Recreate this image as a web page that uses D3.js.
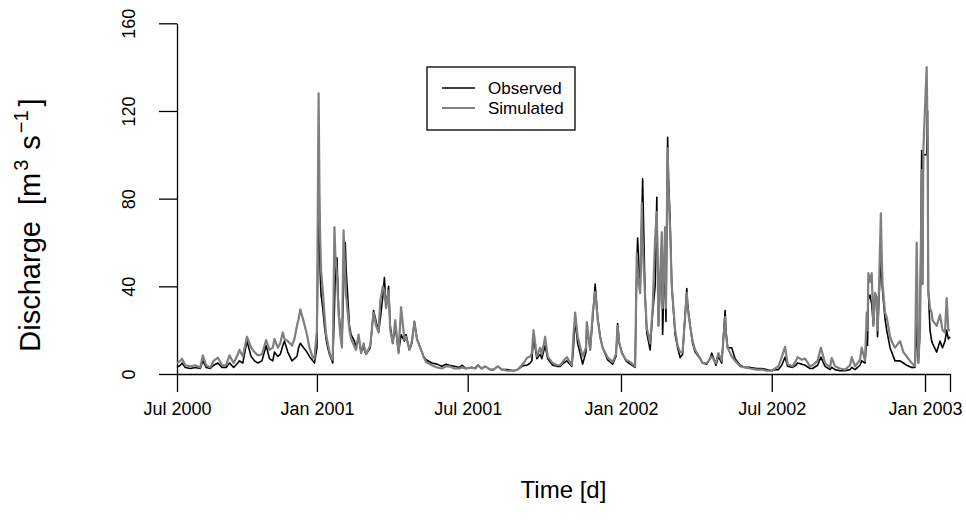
<!DOCTYPE html>
<html>
<head>
<meta charset="utf-8">
<title>Observed vs simulated discharge</title>
<script src="https://d3js.org/d3.v7.min.js"></script>
<style>
  body { margin: 0; background: #fff; }
  text { font-family: "Liberation Sans", Arial, Helvetica, sans-serif; }
</style>
</head>
<body>
<div id="chart"></div>
<script>
// ---- data (day 0 = 2000-07-17) ----
const startDate = "2000-07-17";
const endDate = "2003-01-31";

const day = [
  0, 4, 6, 10, 16, 22, 28, 31, 35, 40,
  44, 49, 54, 59, 63, 68, 73, 75, 79, 84,
  89, 93, 97, 102, 107, 111, 115, 117, 121, 124,
  127, 129, 133, 138, 141, 144, 146, 148, 152, 156,
  159, 163, 165, 168, 170, 171, 172, 173, 175, 177,
  179, 181, 183, 186, 187, 189, 190, 192, 194, 196,
  198, 200, 202, 203, 205, 207, 209, 213, 215, 218,
  221, 224, 227, 232, 236, 239, 242, 244, 247, 249,
  251, 254, 256, 259, 262, 266, 269, 273, 275, 279,
  282, 285, 288, 291, 296, 299, 306, 312, 318, 323,
  327, 333, 339, 342, 347, 354, 358, 361, 366, 370,
  376, 380, 385, 390, 397, 404, 409, 414, 418, 420,
  424, 426, 428, 432, 436, 438, 442, 445, 451, 456,
  460, 464, 468, 474, 476, 478, 481, 487, 491, 492,
  496, 499, 502, 503, 505, 508, 511, 517, 523, 527,
  529, 531, 534, 539, 544, 550, 552, 553, 556, 558,
  559, 562, 564, 568, 571, 574, 576, 578, 582, 583,
  586, 587, 589, 590, 592, 594, 598, 601, 604, 607,
  612, 613, 616, 619, 622, 628, 631, 636, 640, 642,
  647, 650, 654, 658, 659, 661, 666, 670, 676, 682,
  688, 696, 702, 708, 714, 718, 722, 726, 730, 733,
  739, 743, 745, 750, 754, 760, 763, 769, 773, 778,
  784, 786, 790, 796, 802, 808, 810, 814, 817, 820,
  822, 826, 828, 829, 830, 832, 834, 836, 838, 840,
  841, 842, 845, 846, 847, 850, 852, 856, 859, 862,
  868, 872, 876, 882, 886, 888, 890, 892, 894, 895,
  896, 900, 901, 902, 904, 906, 907, 912, 916, 919,
  922, 924, 926, 928
];

const observed = [
  3, 4, 5, 3, 2.5, 3, 2.5, 6, 3, 2.5,
  4, 5, 3, 3, 5, 3, 5, 6, 5, 15,
  8, 6, 5, 6, 13, 7, 6, 10, 8, 9,
  13, 15, 10, 6, 7, 8, 12, 14, 12, 10,
  8, 6, 5, 12, 89, 62, 45, 36, 30, 22,
  16, 12, 9, 6, 5, 30, 45, 53, 30, 20,
  13, 40, 60, 48, 35, 22, 18, 15, 12, 17,
  10, 12, 9, 12, 29, 24, 19, 25, 35, 44,
  30, 40, 22, 14, 22, 10, 18, 15, 18, 11,
  14, 24, 16, 13, 8, 6.5, 5, 4.5, 3.5, 4.5,
  4, 3.5, 3, 4, 2.5, 3, 2.5, 4, 2.5, 3.5,
  2, 2, 3.5, 2, 2, 1.5, 2, 3.5, 4, 4,
  5, 6, 17, 7, 9, 7, 13, 7, 4, 3.5,
  3.5, 5, 6, 3.5, 12, 25, 14, 4.5, 10, 21.7,
  11, 25, 41, 36, 26, 17, 12, 6.4, 4.5, 8,
  23, 14, 10, 6, 4.5, 3, 50, 62, 37, 70,
  89, 35, 18.7, 11, 28, 40, 80.6, 22, 60, 18,
  60, 24, 108, 90, 70, 40, 18, 12, 7.5, 9,
  39, 32, 22, 14, 10, 7, 5, 4.5, 7, 9.5,
  4, 8, 5, 29, 20, 12, 12, 7, 4, 3,
  3, 2.5, 2.5, 2, 1.5, 2, 2, 4, 7.7, 3.5,
  3, 4, 5, 4.5, 4, 2.5, 2.5, 4, 7.7, 3.5,
  2, 3, 2, 1.5, 1.5, 2, 3, 2, 3, 4,
  6, 5, 17, 13, 34, 36, 32, 22, 35, 33,
  17, 28, 53, 45, 38, 25, 20, 12, 9, 6,
  6, 5, 4, 3, 3, 22, 5, 20, 102, 41,
  100, 100, 120, 38, 20, 15, 14, 10, 15, 12,
  15, 20, 16, 17
];

const simulated = [
  5, 6, 7, 4, 3.5, 4, 3, 8.5, 4, 3,
  6, 7.5, 4, 4, 8.5, 5, 9, 11, 8, 17,
  12, 10, 8.5, 9, 15.5, 11, 12, 16, 12, 14,
  19, 16, 15, 13, 16, 22, 25, 29.5, 24, 18,
  12, 7.5, 7, 20, 128, 85, 60, 47, 38, 27,
  18, 14, 10, 6.5, 7, 67, 55, 45, 28, 18,
  12, 65.5, 45, 36, 28, 20, 16, 12.5, 11, 18,
  9.5, 14, 9, 13, 28, 22, 19, 33, 40, 38,
  30, 38, 20, 14, 24.6, 9.5, 30.5, 15.6, 17, 11,
  15, 23.7, 16, 13, 8, 5.5, 4, 3, 2.5, 3.5,
  3.5, 2.5, 2.5, 3, 2.5, 3, 2.5, 4, 2.5, 3.5,
  2, 2, 3.5, 2, 1.5, 1.5, 2, 4, 6, 7.3,
  8, 9.5, 20, 8, 12, 9, 17, 8, 5, 4,
  4, 6, 7.7, 4, 18, 28, 17, 8, 12, 23.7,
  11, 27.6, 37.5, 34, 25, 17, 12, 7.5, 5.5, 9,
  22, 14, 9.5, 6.5, 5.5, 3.5, 55, 45, 37, 78,
  60, 35, 21, 14, 30, 62, 74, 22, 64.7, 30,
  67, 30, 103, 85, 65, 40, 20, 13, 10, 10,
  37, 30, 22, 15, 11, 7, 5, 5, 7, 8,
  5, 9.5, 6, 26, 18, 12, 8, 6, 3.5, 3,
  2.5, 2, 2, 1.5, 1.5, 2.5, 3.5, 7.7, 12.4, 4.5,
  3.5, 6, 7.7, 6.5, 7, 3.5, 4, 6, 12, 5,
  3, 7.3, 3.5, 2.5, 2, 4, 7.7, 3.5, 5, 6.5,
  12, 6, 28, 20, 46, 42, 46, 22, 37, 35,
  20, 28, 73.3, 55, 41, 28, 26, 17, 14, 12,
  15, 10, 8, 5, 3.5, 60, 5, 20, 93, 41,
  102, 140, 110, 38, 30, 28, 24.6, 22, 27, 20,
  19, 34.6, 20, 20
];

const tickDates = ["2000-07-17", "2001-01-01", "2001-07-01", "2002-01-01", "2002-07-01", "2003-01-01", "2003-01-31"];
const tickLabels = ["Jul 2000", "Jan 2001", "Jul 2001", "Jan 2002", "Jul 2002", "Jan 2003", ""];
const yTicks = [0, 40, 80, 120, 160];
const seriesNames = ["Observed", "Simulated"];
const seriesColors = ["#000000", "#7f7f7f"];

// ---- layout ----
const width = 966, height = 529;
const plot = { left: 177, right: 950, top: 23.3, bottom: 374 };
const parse = d3.utcParse("%Y-%m-%d");
const t0 = parse(startDate);

const svg = d3.select("#chart").append("svg")
  .attr("width", width)
  .attr("height", height);

const x = d3.scaleUtc()
  .domain([t0, parse(endDate)])
  .range([plot.left, plot.right]);

const y = d3.scaleLinear()
  .domain([0, 160])
  .range([plot.bottom, plot.top]);

const dates = day.map(d => d3.utcDay.offset(t0, d));

// x axis
const gx = svg.append("g")
  .attr("transform", `translate(0,${plot.bottom})`)
  .call(d3.axisBottom(x)
    .tickValues(tickDates.map(parse))
    .tickFormat((d, i) => tickLabels[i])
    .tickSize(18)
    .tickSizeOuter(0)
    .tickPadding(10));
gx.selectAll("text").attr("font-size", 18).attr("fill", "#000");

// y axis, labels turned like R's default
const gy = svg.append("g")
  .attr("transform", `translate(${plot.left},0)`)
  .call(d3.axisLeft(y)
    .tickValues(yTicks)
    .tickSize(18)
    .tickSizeOuter(0));
gy.selectAll("text")
  .attr("font-size", 18)
  .attr("fill", "#000")
  .attr("x", null)
  .attr("dy", "0.35em")
  .attr("text-anchor", "middle")
  .attr("transform", "translate(-48,0) rotate(-90)");

svg.selectAll(".domain, .tick line").attr("stroke", "#000").attr("stroke-width", 1.3);

// lines (simulated drawn over observed)
const line = vals => d3.line()
  .x((d, i) => x(dates[i]))
  .y(d => y(d))(vals);

svg.append("path")
  .attr("d", line(observed))
  .attr("fill", "none")
  .attr("stroke", seriesColors[0])
  .attr("stroke-width", 1.6)
  .attr("stroke-linejoin", "round");

svg.append("path")
  .attr("d", line(simulated))
  .attr("fill", "none")
  .attr("stroke", seriesColors[1])
  .attr("stroke-width", 2.2)
  .attr("stroke-linejoin", "round");

// axis titles
svg.append("text")
  .attr("x", (plot.left + plot.right) / 2)
  .attr("y", 498)
  .attr("text-anchor", "middle")
  .attr("font-size", 24)
  .text("Time [d]");

// plotmath-like spacing round the unit
const ylab = svg.append("text")
  .attr("transform", "translate(40,225) rotate(-90)")
  .attr("text-anchor", "middle")
  .attr("font-size", 29)
  .style("white-space", "pre");
ylab.append("tspan").text("Discharge");
ylab.append("tspan").attr("dx", 16).text("[m");
ylab.append("tspan").attr("font-size", 20).attr("dx", 2).attr("dy", -12).text("3");
ylab.append("tspan").attr("dx", 10).attr("dy", 12).text("s");
ylab.append("tspan").attr("font-size", 20).attr("dx", 2).attr("dy", -12).text("\u22121");
ylab.append("tspan").attr("dx", 4).attr("dy", 12).text("]");

// legend
const legend = svg.append("g").attr("transform", "translate(427,67)");
legend.append("rect")
  .attr("width", 148)
  .attr("height", 63)
  .attr("fill", "#fff")
  .attr("stroke", "#000")
  .attr("stroke-width", 1.3);
seriesNames.forEach((name, i) => {
  const ly = 21 + i * 20;
  legend.append("line")
    .attr("x1", 15).attr("x2", 48)
    .attr("y1", ly).attr("y2", ly)
    .attr("stroke", seriesColors[i])
    .attr("stroke-width", i ? 2.2 : 1.6);
  legend.append("text")
    .attr("x", 61)
    .attr("y", ly)
    .attr("dy", "0.35em")
    .attr("font-size", 17)
    .text(name);
});
</script>
</body>
</html>
